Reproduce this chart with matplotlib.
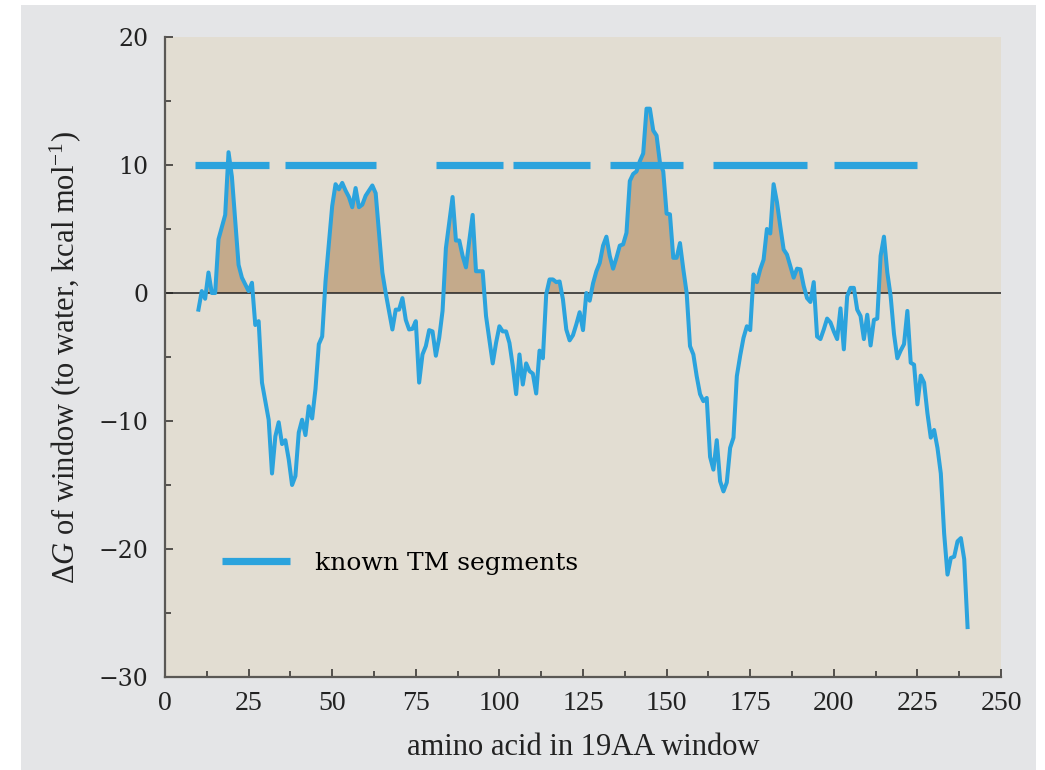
"""
Hydropathy plot: free energy of transfer to water for a sliding
19-residue window, with the known transmembrane segments marked.
"""

import matplotlib.pyplot as plt
from matplotlib.lines import Line2D
from matplotlib.patches import Rectangle
from matplotlib.ticker import MultipleLocator

# window centre (residue number) and dG of the window (kcal/mol)
aa_pos = [
    10, 11, 12, 13, 14, 15, 16, 18, 19, 20, 22, 23, 25, 26, 27, 28, 29, 31,
    32, 33, 34, 35, 36, 37, 38, 39, 40, 41, 42, 43, 44, 45, 46, 47, 48, 49,
    50, 51, 52, 53, 54, 55, 56, 57, 58, 59, 60, 62, 63, 65, 66, 68, 69, 70,
    71, 72, 73, 74, 75, 76, 77, 78, 79, 80, 81, 82, 83, 84, 85, 86, 87, 88,
    89, 90, 91, 92, 93, 95, 96, 98, 99, 100, 101, 102, 103, 104, 105, 106,
    107, 108, 109, 110, 111, 112, 113, 114, 115, 116, 117, 118, 119, 120,
    121, 122, 123, 124, 125, 126, 127, 128, 129, 130, 131, 132, 133, 134,
    135, 136, 137, 138, 139, 140, 141, 142, 143, 144, 145, 146, 147, 148,
    149, 150, 151, 152, 153, 154, 155, 156, 157, 158, 159, 160, 161, 162,
    163, 164, 165, 166, 167, 168, 169, 170, 171, 172, 173, 174, 175, 176,
    177, 178, 179, 180, 181, 182, 183, 184, 185, 186, 187, 188, 189, 190,
    191, 192, 193, 194, 195, 196, 197, 198, 199, 200, 201, 202, 203, 204,
    205, 206, 207, 208, 209, 210, 211, 212, 213, 214, 215, 216, 217, 218,
    219, 220, 221, 222, 223, 224, 225, 226, 227, 228, 229, 230, 231, 232,
    233, 234, 235, 236, 237, 238, 239, 240,
]
delta_g = [
    -1.3, 0.15, -0.45, 1.6, 0.0, 0.0, 4.2, 6.1, 11.0, 9.1, 2.2, 1.2, 0.15,
    0.8, -2.5, -2.2, -7.0, -9.9, -14.1, -11.2, -10.1, -11.8, -11.5, -13.0,
    -15.0, -14.3, -10.9, -9.9, -11.1, -8.85, -9.8, -7.5, -4.0, -3.4, 0.9,
    3.9, 6.8, 8.5, 8.1, 8.6, 8.0, 7.5, 6.7, 8.2, 6.7, 6.9, 7.6, 8.4, 7.8,
    1.6, 0.0, -2.85, -1.3, -1.3, -0.4, -2.1, -2.85, -2.8, -2.2, -7.0, -4.8,
    -4.15, -2.9, -3.0, -4.9, -3.5, -1.4, 3.5, 5.5, 7.5, 4.1, 4.1, 2.9, 2.0,
    4.1, 6.1, 1.7, 1.7, -1.8, -5.5, -3.9, -2.6, -3.0, -3.0, -3.9, -5.7,
    -7.9, -4.8, -7.15, -5.5, -6.1, -6.3, -7.85, -4.5, -5.1, -0.1, 1.06,
    1.06, 0.85, 0.9, -0.5, -2.85, -3.7, -3.3, -2.45, -1.5, -2.9, 0.0, -0.6,
    0.75, 1.7, 2.35, 3.7, 4.4, 2.9, 1.9, 2.75, 3.7, 3.8, 4.7, 8.75, 9.3,
    9.5, 10.3, 10.9, 14.4, 14.4, 12.7, 12.3, 10.2, 9.5, 6.2, 6.15, 2.75,
    2.75, 3.9, 1.85, 0.0, -4.15, -4.8, -6.5, -7.9, -8.45, -8.2, -12.8,
    -13.8, -11.5, -14.7, -15.5, -14.8, -12.1, -11.3, -6.5, -4.9, -3.5, -2.6,
    -2.9, 1.45, 0.85, 1.85, 2.6, 5.0, 4.65, 8.5, 7.1, 5.2, 3.4, 3.0, 2.1,
    1.2, 1.9, 1.85, 0.55, -0.4, -0.7, 0.85, -3.4, -3.6, -2.85, -2.0, -2.3,
    -3.0, -3.6, -1.2, -4.4, -0.25, 0.4, 0.4, -1.3, -1.8, -3.6, -1.7, -4.1,
    -2.1, -2.0, 2.9, 4.4, 1.6, -0.25, -3.2, -5.1, -4.5, -4.0, -1.4, -5.45,
    -5.6, -8.7, -6.45, -7.0, -9.4, -11.3, -10.7, -12.1, -14.1, -18.8, -22.0,
    -20.7, -20.6, -19.4, -19.15, -20.8, -26.1,
]

# known transmembrane segments (first / last residue), drawn at 10 kcal/mol
tm_start = [9, 36, 81, 104, 133, 164, 200]
tm_end = [31, 63, 101, 127, 155, 192, 225]
tm_level = 10

x_ticks = [0, 25, 50, 75, 100, 125, 150, 175, 200, 225, 250]
y_ticks = [-30, -20, -10, 0, 10, 20]

BLUE = "#2ba3dd"
FILL = "#c4aa8b"
PLOT_BG = "#e2ddd2"
PANEL_BG = "#e4e5e7"
INK = "#222222"

plt.rcParams["mathtext.fontset"] = "custom"
plt.rcParams["mathtext.rm"] = "Liberation Serif"
plt.rcParams["mathtext.it"] = "Liberation Serif:italic"

fig = plt.figure(figsize=(10.45, 7.7), dpi=100, facecolor="white")
fig.patches.append(
    Rectangle((21 / 1045, 0), (1036 - 21) / 1045, 765 / 770,
              transform=fig.transFigure, facecolor=PANEL_BG,
              edgecolor="none", zorder=-10)
)

ax = fig.add_axes([165 / 1045, 93 / 770, 836 / 1045, 640 / 770])
ax.set_facecolor(PLOT_BG)

# positive (hydrophobic) stretches are shaded
ax.fill_between(aa_pos, delta_g, 0, where=[v > 0 for v in delta_g],
                interpolate=True, color=FILL, linewidth=0, zorder=1)
ax.axhline(0, color=INK, lw=1.1, zorder=2)
ax.plot(aa_pos, delta_g, color=BLUE, lw=2.9, solid_joinstyle="round",
        zorder=3)

for s, e in zip(tm_start, tm_end):
    ax.plot([s, e], [tm_level, tm_level], color=BLUE, lw=5.2,
            solid_capstyle="butt", zorder=4)

ax.set_xlim(0, 250)
ax.set_ylim(-30, 20)
ax.set_xticks(x_ticks)
ax.set_yticks(y_ticks)
ax.xaxis.set_minor_locator(MultipleLocator(12.5))
ax.yaxis.set_minor_locator(MultipleLocator(5))

for side in ("top", "right"):
    ax.spines[side].set_visible(False)
for side in ("left", "bottom"):
    ax.spines[side].set_color("#5a5855")
    ax.spines[side].set_linewidth(1.6)

ax.tick_params(which="both", direction="in", color="#3a3835", width=1.2)
ax.tick_params(which="major", length=6)
ax.tick_params(which="minor", length=4)
ax.tick_params(axis="y", pad=12)
ax.tick_params(axis="x", pad=10)

ax.set_yticklabels([f"\u2212{abs(v)}" if v < 0 else str(v) for v in y_ticks],
                   family="DejaVu Serif", fontsize=17, color=INK)
ax.set_xticklabels([str(v) for v in x_ticks],
                   family="Liberation Serif", fontsize=20, color=INK)

ax.set_xlabel("amino acid in 19AA window", family="Liberation Serif",
              fontsize=22, color=INK)
ax.set_ylabel(r"$\Delta G$ of window (to water, kcal mol$^{-1}$)",
              family="Liberation Serif", fontsize=22, color=INK)
ax.xaxis.set_label_coords(0.5, -0.088)
ax.yaxis.set_label_coords(-0.098, 0.5)

handle = Line2D([], [], color=BLUE, lw=5.2, solid_capstyle="butt")
ax.legend([handle], ["known TM segments"], loc="center left",
          bbox_to_anchor=(0.068, 0.178), frameon=False, borderpad=0,
          borderaxespad=0, handlelength=2.72, handletextpad=1.0,
          prop={"family": "DejaVu Serif", "size": 18})

fig.savefig("out.png", dpi=100, facecolor=fig.get_facecolor())
